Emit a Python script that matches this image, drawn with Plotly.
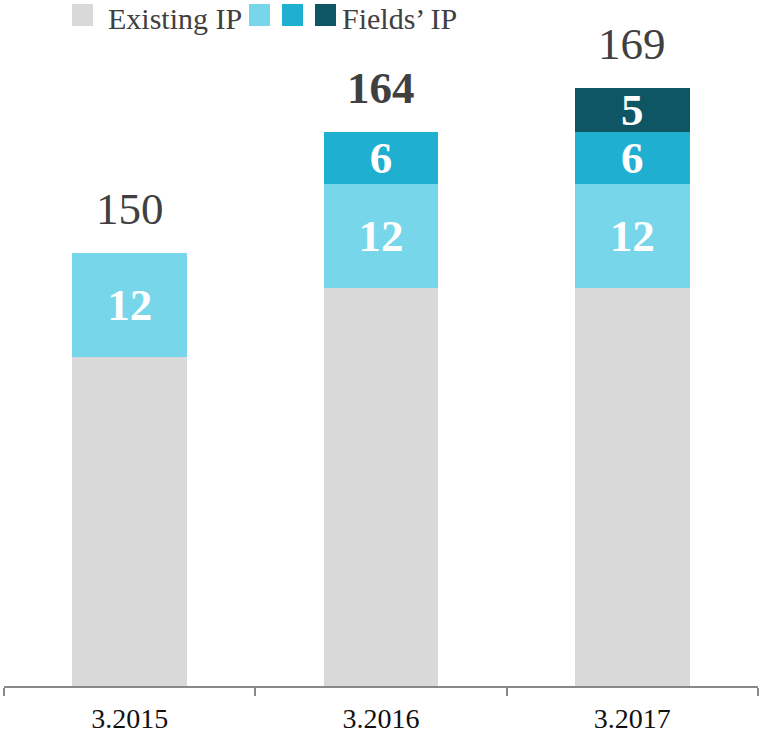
import plotly.graph_objects as go

# ---- data ----
categories = ["3.2015", "3.2016", "3.2017"]
existing_ip = [138, 146, 146]
ip_first = [12, 12, 12]
ip_second = [None, 6, 6]
fields_ip = [None, None, 5]
legend_labels = ["Existing IP", "", "", "Fields’ IP"]
total_bold = [False, True, False]
axis_floor = 100

# ---- styles ----
colors = ["#D9D9D9", "#78D6EA", "#1FAFD0", "#0F5664"]
FONT = "Liberation Serif, Times New Roman, serif"
W, H = 760, 736
ML, MR, MT, MB = 4, 2, 0, 50
PW, PH = W - ML - MR, H - MT - MB
PX_PER_UNIT = 8.66

series = [existing_ip, ip_first, ip_second, fields_ip]

fig = go.Figure()
for i, (vals, col) in enumerate(zip(series, colors)):
    fig.add_bar(
        x=categories, y=vals, width=0.455,
        marker=dict(color=col, line=dict(width=0)),
        text=[("" if (v is None or i == 0) else str(v)) for v in vals],
        textposition="inside", insidetextanchor="middle", constraintext="none",
        textangle=0,
        textfont=dict(family=FONT, size=45, color="white", weight="bold"),
        showlegend=False, hoverinfo="skip",
    )

totals = [sum((s[k] or 0) for s in series) for k in range(len(categories))]
for k, c in enumerate(categories):
    t = str(totals[k])
    fig.add_annotation(
        x=k, y=totals[k], yref="y", xref="x",
        text=f"<b>{t}</b>" if total_bold[k] else t,
        showarrow=False, yanchor="middle", yshift=44,
        font=dict(family=FONT, size=45, color="#404040"),
    )

# ---- legend (drawn manually to get large square swatches) ----
def px_x(px):
    return (px - ML) / PW

def px_y(py):
    return (H - MB - py) / PH

swatch_x = [72, 249, 282, 315]
label_x = [106, None, None, 340]
for col, sx, lx, lab in zip(colors, swatch_x, label_x, legend_labels):
    fig.add_shape(type="rect", xref="paper", yref="paper",
                  x0=px_x(sx), x1=px_x(sx + 21), y0=px_y(26), y1=px_y(4),
                  fillcolor=col, line=dict(width=0))
    if lab:
        fig.add_annotation(xref="paper", yref="paper", x=px_x(lx), y=px_y(18),
                           xanchor="left", yanchor="middle", showarrow=False,
                           text=lab, font=dict(family=FONT, size=30, color="#404040"))

fig.update_layout(
    barmode="stack", width=W, height=H,
    margin=dict(l=ML, r=MR, t=MT, b=MB, autoexpand=False),
    plot_bgcolor="white", paper_bgcolor="white",
    showlegend=False,
    xaxis=dict(type="category", showline=True, linecolor="#888888", linewidth=2,
               ticks="outside", tickson="boundaries", ticklen=8, tickwidth=2,
               tickcolor="#888888", showgrid=False, zeroline=False,
               automargin=False, ticklabelstandoff=6,
               tickfont=dict(family=FONT, size=28, color="#111111"),
               range=[-0.5, 2.5]),
    yaxis=dict(visible=False, range=[axis_floor, axis_floor + PH / PX_PER_UNIT],
               showgrid=False, zeroline=False, automargin=False),
)

fig.write_html("out.html", config={"displayModeBar": False},
               post_script="document.body.style.margin='0';document.body.style.overflow='hidden';")
